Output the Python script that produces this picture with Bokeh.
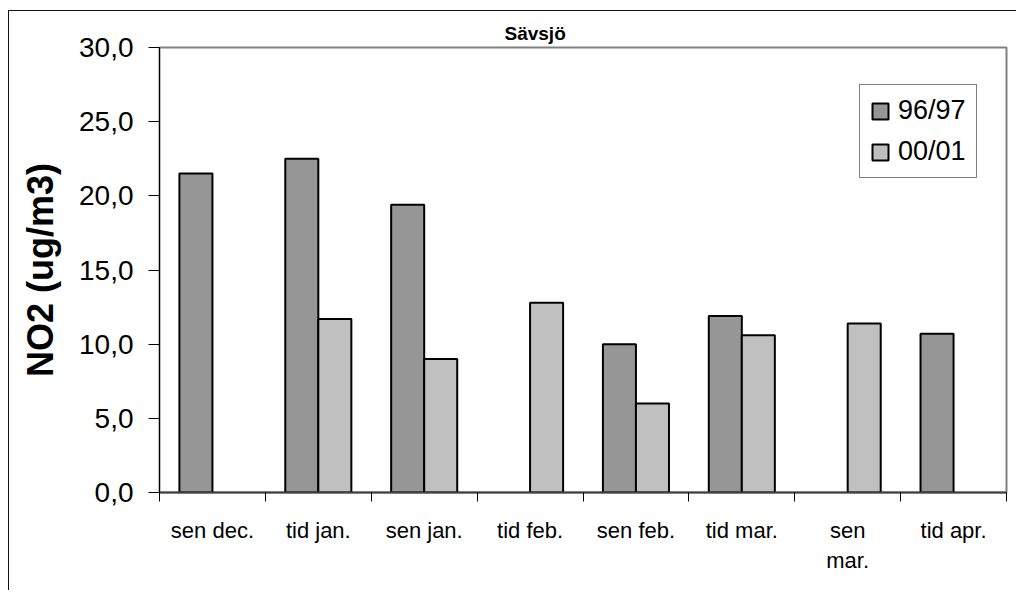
import numpy as np
from bokeh.plotting import figure
from bokeh.models import (ColumnDataSource, Range1d, FixedTicker, CustomJSTickFormatter,
                          Legend, LegendItem)
from bokeh.transform import dodge
from bokeh.embed import file_html
from bokeh.resources import INLINE

# ---- data ----
categories = ["sen dec.", "tid jan.", "sen jan.", "tid feb.", "sen feb.",
              "tid mar.", "sen\nmar.", "tid apr."]
series_names = ["96/97", "00/01"]
values_9697 = [21.5, 22.5, 19.4, np.nan, 10.0, 11.9, np.nan, 10.7]
values_0001 = [np.nan, 11.7, 9.0, 12.8, 6.0, 10.6, 11.4, np.nan]
y_ticks = [0, 5, 10, 15, 20, 25, 30]
title_text = "Sävsjö"
y_label = "NO2 (ug/m3)"

FONT = "Liberation Sans"
n = len(categories)
centers = [i + 0.5 for i in range(n)]
source = ColumnDataSource(data=dict(x=centers, a=values_9697, b=values_0001))

p = figure(width=1008, height=580, x_range=Range1d(0, n), y_range=Range1d(0, 30),
           output_backend="svg", toolbar_location=None,
           min_border_left=150, min_border_right=11, min_border_top=36,
           min_border_bottom=99)

bw = 0.312
r1 = p.vbar(x=dodge("x", -bw / 2, range=p.x_range), top="a", width=bw, source=source,
            fill_color="#969696", line_color="#000000", line_width=2)
r2 = p.vbar(x=dodge("x", bw / 2, range=p.x_range), top="b", width=bw, source=source,
            fill_color="#c0c0c0", line_color="#000000", line_width=2)

# title
p.title.text = title_text
p.title.align = "left"
p.title.offset = 345
p.title.text_font = FONT
p.title.text_font_size = "19px"
p.title.text_font_style = "bold"
p.title.text_color = "#000000"
p.title.standoff = 7

# grid / outline
p.xgrid.grid_line_color = None
p.ygrid.grid_line_color = None
p.outline_line_color = "#808080"
p.outline_line_width = 2
p.background_fill_color = "#ffffff"
p.border_fill_color = "#ffffff"

# x axis: labels at centers, ticks at boundaries (minor ticks)
xa = p.xaxis[0]
xa.ticker = FixedTicker(ticks=centers, minor_ticks=list(range(n + 1)))
xa.formatter = CustomJSTickFormatter(args=dict(labels=categories),
                                     code="return labels[Math.floor(tick)];")
xa.major_tick_line_color = None
xa.major_tick_out = 0
xa.major_tick_in = 0
xa.minor_tick_out = 9
xa.minor_tick_in = 0
xa.minor_tick_line_color = "#000000"
xa.minor_tick_line_width = 1
xa.axis_line_color = "#404040"
xa.axis_line_width = 2
xa.major_label_text_font = FONT
xa.major_label_text_font_size = "22px"
xa.major_label_text_color = "#000000"
xa.major_label_standoff = 16

# y axis
ya = p.yaxis[0]
ya.ticker = FixedTicker(ticks=y_ticks)
ya.formatter = CustomJSTickFormatter(code="return tick.toFixed(1).replace('.', ',');")
ya.major_tick_out = 11
ya.major_tick_in = 0
ya.minor_tick_line_color = None
ya.axis_line_color = "#000000"
ya.axis_line_width = 1
ya.major_tick_line_color = "#000000"
ya.major_label_text_font = FONT
ya.major_label_text_font_size = "28px"
ya.major_label_text_color = "#000000"
ya.major_label_standoff = 15
ya.axis_label = y_label
ya.axis_label_text_font = FONT
ya.axis_label_text_font_size = "36px"
ya.axis_label_text_font_style = "bold"
ya.axis_label_text_color = "#000000"
ya.axis_label_standoff = 15

# legend
legend = Legend(items=[LegendItem(label=series_names[0], renderers=[r1]),
                       LegendItem(label=series_names[1], renderers=[r2])],
                location=(700, 314))
legend.label_text_font = FONT
legend.label_text_font_size = "27px"
legend.label_text_color = "#000000"
legend.glyph_width = 20
legend.glyph_height = 20
legend.label_standoff = 8
legend.padding = 10
legend.spacing = 10
legend.margin = 0
legend.border_line_color = "#000000"
legend.border_line_width = 1
legend.background_fill_color = "#ffffff"
legend.background_fill_alpha = 1.0
p.add_layout(legend)

# outer chart-area border (left and top edges visible in the window)
p.styles = {"border-left": "1.5px solid #111", "border-top": "1.5px solid #111",
            "margin-top": "10px", "margin-left": "8px"}

open("out.html", "w").write(file_html(p, INLINE))
